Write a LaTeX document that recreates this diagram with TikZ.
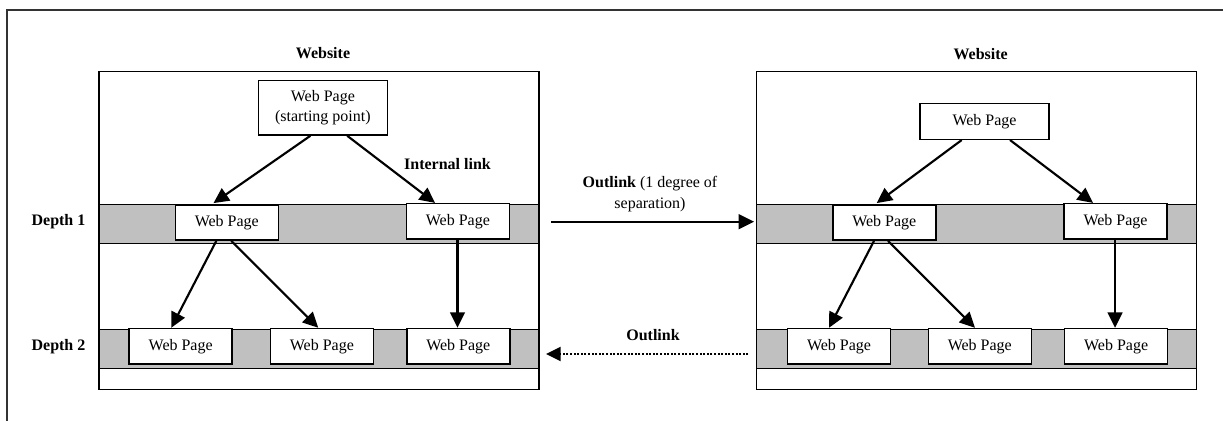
\documentclass[tikz,border=0pt]{standalone}
\usepackage{fontspec}
\setmainfont{Liberation Serif}
\usetikzlibrary{arrows.meta,calc}
\definecolor{bandgray}{HTML}{C0C0C0}
\begin{document}
\begin{tikzpicture}[x=0.75pt,y=-0.75pt,
  every node/.style={font=\fontsize{12}{14.5}\selectfont},
  site/.style={draw=black,line width=1.1pt,fill=white},
  band/.style={draw=black,line width=1.1pt,fill=bandgray},
  page/.style={draw=black,line width=1.1pt,fill=white,inner sep=0pt,
    minimum width=77.25pt,minimum height=26.5pt,align=center},
  lbl/.style={font=\fontsize{12}{14.5}\selectfont\bfseries,inner sep=0pt},
  arr/.style={line width=1.6pt,-{Triangle[length=11.5pt,width=11pt]}},
  dotarr/.style={line width=1.6pt,dash pattern=on 1.5pt off 1.2pt,-{Triangle[length=11pt,width=10.5pt]}},
  frame/.style={draw=black!80,line width=1.5pt}]
\useasboundingbox (0,0) rectangle (1223,421);
% outer frame (top and left edges visible)
\draw[frame] (1223,10) -- (7.3,10) -- (7.3,421);

% website boxes
\draw[site] (98.9,71.3) rectangle (539,389.3);
\draw[band] (98.9,204.3) rectangle (539,243.7);
\draw[band] (98.9,329.3) rectangle (539,368.3);
\draw[site] (756.7,71.3) rectangle (1196.7,389.3);
\draw[band] (756.7,204.3) rectangle (1196.7,243.7);
\draw[band] (756.7,329.3) rectangle (1196.7,368.3);

% labels
\node[lbl] (wsL) at (323,53.3) {Website};
\node[lbl] (wsR) at (980.7,54) {Website};
\node[lbl] (d1) at (58.5,221.7) {Depth 1};
\node[lbl] (d2) at (58.5,346.7) {Depth 2};
\node[lbl] (il) at (447.5,164) {Internal link};
\node[inner sep=0pt,align=center,font=\fontsize{12}{15.75}\selectfont] (ol1) at (650,194.5) {\textbf{Outlink} (1 degree of\\separation)};
\node[lbl] (ol2) at (653,335) {Outlink};

% left site pages
\node[page,minimum width=97pt,minimum height=41pt] (L0) at (322.9,107.7) {Web Page\\(starting point)};
\node[page] (L1a) at (226.8,222.5) {Web Page};
\node[page] (L1b) at (457.9,221.3) {Web Page};
\node[page] (L2a) at (180.7,346.2) {Web Page};
\node[page] (L2b) at (321.9,346.2) {Web Page};
\node[page] (L2c) at (458.3,346.2) {Web Page};

% right site pages
\node[page,minimum width=96.75pt,minimum height=27pt] (R0) at (984.5,121.3) {Web Page};
\node[page] (R1a) at (884.3,222.5) {Web Page};
\node[page] (R1b) at (1115.5,221.3) {Web Page};
\node[page] (R2a) at (839,346.2) {Web Page};
\node[page] (R2b) at (979.8,346.2) {Web Page};
\node[page] (R2c) at (1116.1,346.2) {Web Page};

% left arrows
\draw[arr] ($(L0.south)+(-12.5,0)$) -- ($(L1a.north)+(-13.3,-1)$);
\draw[arr] ($(L0.south)+(24.3,0)$) -- ($(L1b.north)+(-22.9,0)$);
\draw[arr] ($(L1a.south)+(-10.5,0)$) -- ($(L2a.north)+(-9.5,0)$);
\draw[arr] ($(L1a.south)+(4.5,0)$) -- ($(L2b.north)+(-3.6,0)$);
\draw[arr] ($(L1b.south)+(-0.4,0)$) -- ($(L2c.north)+(-0.8,0)$);

% right arrows
\draw[arr] ($(R0.south)+(-22.8,0)$) -- ($(R1a.north)+(-7.6,-1)$);
\draw[arr] ($(R0.south)+(25.5,0)$) -- ($(R1b.north)+(-22.5,0)$);
\draw[arr] ($(R1a.south)+(-10.3,0)$) -- ($(R2a.north)+(-10,0)$);
\draw[arr] ($(R1a.south)+(3.7,0)$) -- ($(R2b.north)+(-4.8,0)$);
\draw[arr] ($(R1b.south)+(-0.5,0)$) -- ($(R2c.north)+(-1.1,0)$);

% outlinks between sites
\coordinate (oa) at (551,221.7);
\coordinate (ob) at (754,221.7);
\coordinate (oc) at (748.3,354);
\coordinate (od) at (546,354);
\draw[arr] (oa) -- (ob);
\draw[dotarr] (oc) -- (od);
\end{tikzpicture}
\end{document}
